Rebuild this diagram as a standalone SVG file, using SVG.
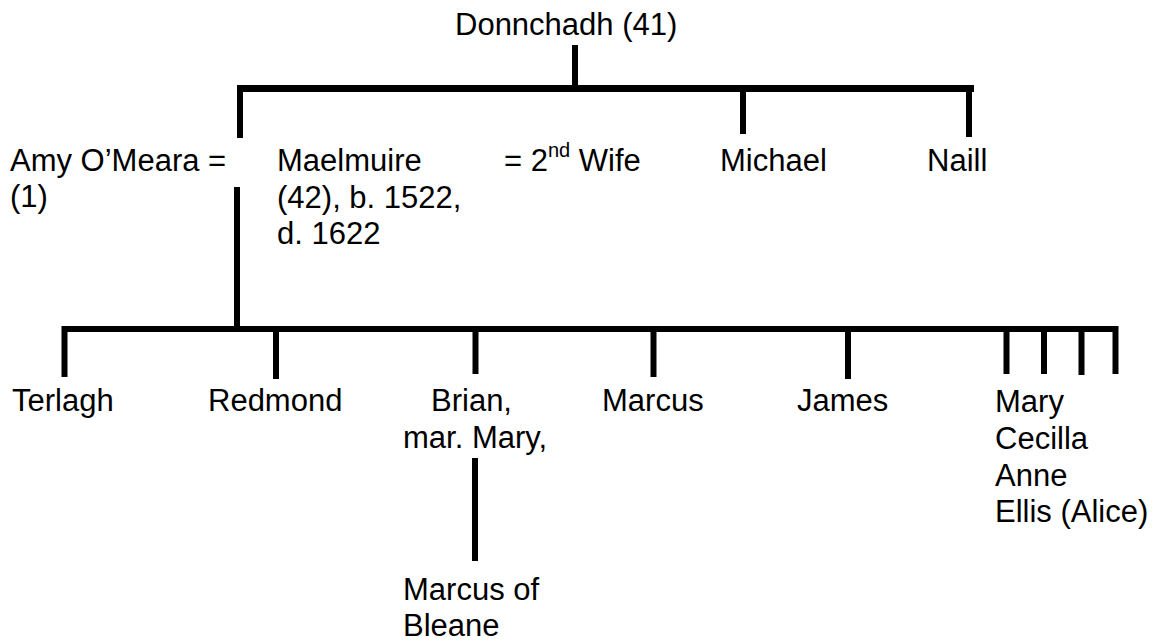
<svg xmlns="http://www.w3.org/2000/svg" width="1159" height="641" viewBox="0 0 1159 641">
  <style>
    text { font-family: "Liberation Sans", Arial, sans-serif; font-size: 31px; fill: #000; }
    .sup { font-size: 20px; }
    .c line { stroke: #000; stroke-width: 6; stroke-linecap: butt; }
    .c line.bar { stroke-width: 7; }
  </style>
  <rect width="1159" height="641" fill="#fff"/>
  <g id="connectors" class="c">
    <line x1="575" y1="45" x2="575" y2="89"/>
    <line class="bar" x1="237" y1="88.5" x2="974" y2="88.5"/>
    <line x1="240" y1="86" x2="240" y2="138"/>
    <line x1="743" y1="88" x2="743" y2="134"/>
    <line x1="969" y1="88" x2="969" y2="137"/>
    <line x1="237" y1="187" x2="237" y2="330"/>
    <line x1="62" y1="329" x2="1118" y2="329"/>
    <line x1="64.5" y1="326" x2="64.5" y2="377"/>
    <line x1="276" y1="329" x2="276" y2="379"/>
    <line x1="475.5" y1="329" x2="475.5" y2="374"/>
    <line x1="653.5" y1="329" x2="653.5" y2="377"/>
    <line x1="848" y1="329" x2="848" y2="379"/>
    <line x1="1006.5" y1="329" x2="1006.5" y2="374"/>
    <line x1="1044" y1="329" x2="1044" y2="374"/>
    <line x1="1081.5" y1="329" x2="1081.5" y2="375"/>
    <line x1="1115.5" y1="326" x2="1115.5" y2="374"/>
    <line x1="475" y1="458" x2="475" y2="561"/>
  </g>
  <g id="donnchadh"><text x="455" y="35">Donnchadh (41)</text></g>
  <g id="amy"><text x="10" y="171">Amy O’Meara =</text><text x="10" y="207">(1)</text></g>
  <g id="maelmuire"><text x="277" y="171">Maelmuire</text><text x="277" y="208">(42), b. 1522,</text><text x="277" y="244">d. 1622</text></g>
  <g id="wife2"><text x="504" y="171">= 2<tspan class="sup" dy="-14">nd</tspan><tspan dy="14"> Wife</tspan></text></g>
  <g id="michael"><text x="720" y="171">Michael</text></g>
  <g id="naill"><text x="927" y="171">Naill</text></g>
  <g id="terlagh"><text x="12" y="411">Terlagh</text></g>
  <g id="redmond"><text x="208" y="411">Redmond</text></g>
  <g id="brian"><text x="431" y="411">Brian,</text><text x="403" y="448">mar. Mary,</text></g>
  <g id="marcus"><text x="602" y="411">Marcus</text></g>
  <g id="james"><text x="797" y="411">James</text></g>
  <g id="daughters"><text x="995" y="412">Mary</text><text x="995" y="449">Cecilla</text><text x="995" y="486">Anne</text><text x="995" y="522">Ellis (Alice)</text></g>
  <g id="marcus-bleane"><text x="403" y="600">Marcus of</text><text x="403" y="636">Bleane</text></g>
</svg>
